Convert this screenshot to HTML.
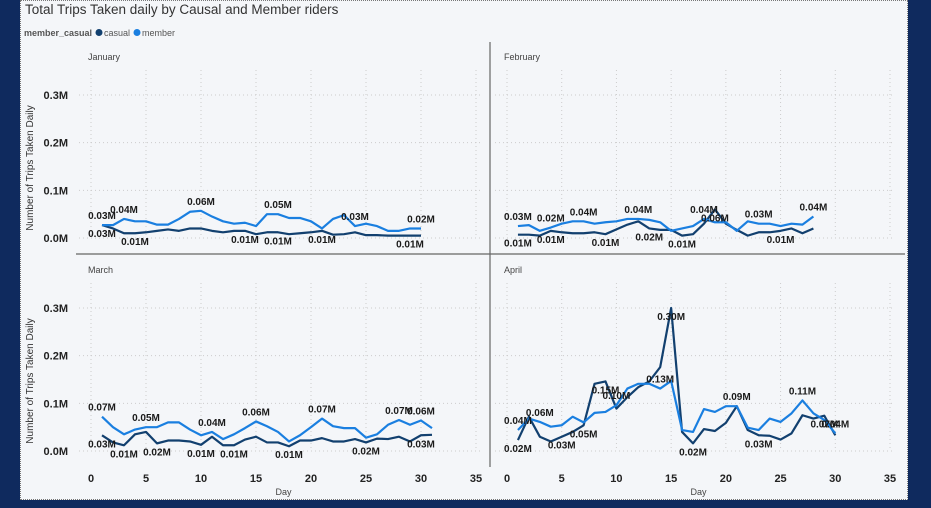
<!DOCTYPE html>
<html><head><meta charset="utf-8"><style>
body{margin:0;width:931px;height:508px;overflow:hidden;background:#0f2a5e;font-family:"Liberation Sans",sans-serif}
#panel{position:absolute;left:20px;top:0;width:888px;height:500px;background:#f4f6f9;border:1px dotted #777;box-sizing:border-box}
</style></head><body>
<div id="panel"></div>
<svg id="chart" width="931" height="508" style="position:absolute;left:0;top:0">
<text x="25" y="14" font-size="13.5" fill="#333">Total Trips Taken daily by Causal and Member riders</text>
<g>
<text x="24" y="36" font-size="9" font-weight="bold" fill="#555">member_casual</text>
<circle cx="99" cy="32.5" r="3.5" fill="#12406f"/>
<text x="104" y="36" font-size="9" fill="#555">casual</text>
<circle cx="137" cy="32.5" r="3.5" fill="#1a7fe0"/>
<text x="142" y="36" font-size="9" fill="#555">member</text>
</g>
<line x1="490" y1="42" x2="490" y2="467" stroke="#666" stroke-width="1.2"/>
<line x1="76" y1="254" x2="905" y2="254" stroke="#666" stroke-width="1.2"/>
</svg>
<script>
const monthNames=["January","February","March","April"];
const janMember=[0.027,0.027,0.04,0.035,0.035,0.028,0.028,0.04,0.055,0.057,0.045,0.035,0.03,0.032,0.025,0.05,0.05,0.042,0.042,0.035,0.02,0.04,0.048,0.025,0.03,0.025,0.015,0.015,0.02,0.02];
const janCasual=[0.027,0.02,0.01,0.01,0.012,0.015,0.018,0.015,0.02,0.02,0.015,0.012,0.015,0.015,0.008,0.012,0.012,0.008,0.01,0.012,0.015,0.007,0.008,0.012,0.006,0.006,0.005,0.005,0.005,0.005];
const febMember=[0.025,0.027,0.015,0.022,0.03,0.035,0.035,0.03,0.033,0.035,0.04,0.04,0.038,0.033,0.015,0.02,0.025,0.04,0.033,0.033,0.015,0.035,0.03,0.03,0.025,0.03,0.028,0.045];
const febCasual=[0.007,0.007,0.005,0.015,0.012,0.01,0.01,0.012,0.008,0.018,0.028,0.035,0.02,0.017,0.017,0.005,0.008,0.03,0.06,0.03,0.017,0.005,0.012,0.012,0.015,0.02,0.01,0.02];
const marMember=[0.072,0.05,0.035,0.045,0.05,0.05,0.06,0.06,0.045,0.033,0.04,0.025,0.035,0.048,0.062,0.052,0.04,0.02,0.033,0.05,0.068,0.052,0.048,0.048,0.028,0.035,0.055,0.065,0.055,0.064,0.048];
const marCasual=[0.033,0.018,0.012,0.035,0.04,0.016,0.022,0.022,0.02,0.013,0.03,0.012,0.012,0.024,0.03,0.018,0.018,0.01,0.022,0.022,0.027,0.02,0.02,0.025,0.018,0.026,0.025,0.03,0.02,0.033,0.034];
const aprMember=[0.044,0.068,0.061,0.051,0.054,0.072,0.06,0.08,0.082,0.096,0.131,0.141,0.141,0.131,0.147,0.044,0.04,0.088,0.082,0.094,0.094,0.049,0.044,0.068,0.061,0.079,0.106,0.079,0.065,0.037];
const aprCasual=[0.023,0.072,0.03,0.02,0.03,0.04,0.054,0.141,0.146,0.089,0.113,0.134,0.146,0.176,0.30,0.04,0.016,0.046,0.042,0.059,0.094,0.044,0.033,0.032,0.024,0.037,0.075,0.068,0.074,0.033];
const memberSeries=[janMember,febMember,marMember,aprMember];
const casualSeries=[janCasual,febCasual,marCasual,aprCasual];
const xTicks=[0,5,10,15,20,25,30,35];
const yTicks=[0,0.1,0.2,0.3];
const yTickLabels=["0.0M","0.1M","0.2M","0.3M"];
const memberLabelDays=[[1,3,10,17,24,30],[1,4,7,12,18,23,28],[1,5,11,15,21,28,30],[1,3,10,14,21,27,30]];
const casualLabelDays=[[1,4,14,17,21,29],[1,4,9,13,16,19,25],[1,3,6,10,13,18,25,30],[1,5,7,9,15,17,23,29]];

const svg=document.getElementById('chart');
const NS='http://www.w3.org/2000/svg';
const layouts=[{x0:91,x1:476,y0:238,ty:57,left:true,bottom:false},{x0:507,x1:890,y0:238,ty:57,left:false,bottom:false},{x0:91,x1:476,y0:451,ty:270,left:true,bottom:true},{x0:507,x1:890,y0:451,ty:270,left:false,bottom:true}];
function mk(tag,attrs){const e=document.createElementNS(NS,tag);for(const k in attrs)e.setAttribute(k,attrs[k]);svg.appendChild(e);return e;}
layouts.forEach((L,i)=>{
  const xs=d=>L.x0+(L.x1-L.x0)*d/35;
  const ys=v=>L.y0-v*143/0.3;
  const t=mk('text',{x:L.x0-3,y:L.ty+3,'font-size':9,fill:'#444'});t.textContent=monthNames[i];
  
  
  xTicks.forEach(d=>{const g=mk('line',{x1:xs(d),x2:xs(d),y1:L.y0-168,y2:L.y0,stroke:'#ccc','stroke-dasharray':'1,3'});
    
    
    if(L.bottom){const tl=mk('text',{x:xs(d),y:482,'font-size':11,'font-weight':'bold','text-anchor':'middle',fill:'#222'});tl.textContent=d;
      
      }
  });
  yTicks.forEach((v,j)=>{const g=mk('line',{x1:L.x0-12,x2:L.x1+4,y1:ys(v),y2:ys(v),stroke:'#ccc','stroke-dasharray':'1,3'});
    
    
    if(L.left){const tl=mk('text',{x:68,y:ys(v)+4,'font-size':11,'font-weight':'bold','text-anchor':'end',fill:'#222'});tl.textContent=yTickLabels[j];
      
      }
  });
  if(L.left){const yt=mk('text',{x:0,y:0,'font-size':10,fill:'#333','text-anchor':'middle',transform:`translate(33,${L.y0-70}) rotate(-90)`});yt.textContent='Number of Trips Taken Daily';
    
    }
  if(L.bottom){const xt=mk('text',{x:(L.x0+L.x1)/2,y:495,'font-size':9,fill:'#444','text-anchor':'middle'});xt.textContent='Day';
    
    }
  [[casualSeries[i],'#12406f','casual'],[memberSeries[i],'#1a7fe0','member']].forEach(([arr,col,nm])=>{
    const p=mk('polyline',{points:arr.map((v,k)=>xs(k+1)+','+ys(v)).join(' '),fill:'none',stroke:col,'stroke-width':2.2,'stroke-linejoin':'round'});
    
    
  });
  memberLabelDays[i].forEach(d=>{const v=memberSeries[i][d-1];if(v===undefined)return;
    const tl=mk('text',{x:xs(d),y:ys(v)-6,'font-size':10,'font-weight':'bold','text-anchor':'middle',fill:'#1a1a1a'});tl.textContent=v.toFixed(2)+'M';
    
    });
  casualLabelDays[i].forEach(d=>{const v=casualSeries[i][d-1];if(v===undefined)return;
    const tl=mk('text',{x:xs(d),y:ys(v)+12,'font-size':10,'font-weight':'bold','text-anchor':'middle',fill:'#1a1a1a'});tl.textContent=v.toFixed(2)+'M';
    
    });
});
</script>
</body></html>
